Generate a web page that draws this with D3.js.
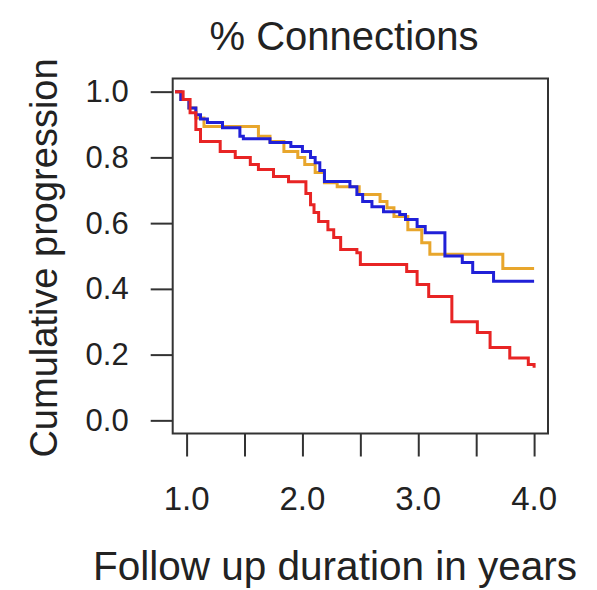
<!doctype html>
<html>
<head>
    <script src="https://d3js.org/d3.v7.min.js"></script>
    <style>
        body { margin: 0; background: #fff; }
        text { font-family: "Liberation Sans", Arial, Helvetica, sans-serif; fill: #222; }
    </style>
</head>
<body>
    <script>
        // step curves (time in years, cumulative value)
        var blueTime = [0.90, 0.95, 1.02, 1.08, 1.12, 1.18, 1.31, 1.46, 1.49, 1.72, 1.90, 2.00, 2.07, 2.11, 2.15, 2.19, 2.41, 2.47, 2.52, 2.60, 2.70, 2.84, 2.89, 2.99, 3.06, 3.23, 3.38, 3.47, 3.65, 4.00];
        var blueSurv = [1.00, 0.976, 0.95, 0.93, 0.917, 0.906, 0.89, 0.864, 0.857, 0.845, 0.833, 0.818, 0.80, 0.784, 0.76, 0.727, 0.711, 0.687, 0.666, 0.65, 0.635, 0.626, 0.611, 0.59, 0.571, 0.50, 0.48, 0.45, 0.423, 0.423];

        var orangeTime = [0.90, 0.95, 1.02, 1.08, 1.15, 1.62, 1.72, 1.84, 1.96, 2.02, 2.11, 2.19, 2.30, 2.49, 2.67, 2.73, 2.79, 2.91, 3.03, 3.10, 3.73, 4.00];
        var orangeSurv = [1.00, 0.976, 0.95, 0.92, 0.894, 0.864, 0.848, 0.818, 0.80, 0.778, 0.754, 0.723, 0.711, 0.687, 0.666, 0.647, 0.62, 0.58, 0.54, 0.505, 0.462, 0.462];

        var redTime = [0.90, 0.97, 1.03, 1.08, 1.12, 1.29, 1.42, 1.55, 1.62, 1.75, 1.88, 2.03, 2.07, 2.10, 2.14, 2.22, 2.27, 2.33, 2.47, 2.50, 2.90, 2.99, 3.09, 3.29, 3.51, 3.62, 3.79, 3.95, 4.00];
        var redSurv = [1.00, 0.976, 0.936, 0.885, 0.848, 0.818, 0.80, 0.778, 0.763, 0.742, 0.726, 0.69, 0.656, 0.632, 0.605, 0.58, 0.556, 0.52, 0.51, 0.474, 0.453, 0.413, 0.377, 0.30, 0.267, 0.222, 0.19, 0.17, 0.16];

        var xTicks = [1.0, 1.5, 2.0, 2.5, 3.0, 3.5, 4.0];
        var xLabels = [1.0, 2.0, 3.0, 4.0];
        var yTicks = [0.0, 0.2, 0.4, 0.6, 0.8, 1.0];

        var width = 597;
        var height = 590;
        // plot box (window.top is read-only, so no "top" here)
        var boxL = 172.7, boxR = 548, boxT = 78.5, boxB = 433.5;

        var x = d3.scaleLinear().domain([0.88, 4.12]).range([boxL, boxR]);
        var y = d3.scaleLinear().domain([-0.04, 1.04]).range([boxB, boxT]);

        var svg = d3.select("body").append("svg")
            .attr("width", width)
            .attr("height", height);

        // axes, R style: long ticks outside, labels set apart
        var yAxis = d3.axisLeft(y).tickValues(yTicks).tickSize(22).tickPadding(22)
            .tickFormat(d3.format(".1f"));
        var gy = svg.append("g").attr("transform", "translate(" + boxL + ",0)").call(yAxis);
        gy.select(".domain").remove();
        gy.selectAll("line").attr("stroke", "#333").attr("stroke-width", 2);
        gy.selectAll("text").attr("font-size", 31).attr("fill", "#222")
            .attr("font-family", "Liberation Sans, Arial, sans-serif");

        var xAxis = d3.axisBottom(x).tickValues(xTicks).tickSize(23).tickFormat("");
        var gx = svg.append("g").attr("transform", "translate(0," + boxB + ")").call(xAxis);
        gx.select(".domain").remove();
        gx.selectAll("line").attr("stroke", "#333").attr("stroke-width", 2);

        svg.selectAll(".xlab")
            .data(xLabels)
            .enter()
            .append("text")
            .attr("class", "xlab")
            .attr("x", function(d){ return x(d); })
            .attr("y", 510)
            .attr("text-anchor", "middle")
            .attr("font-size", 33)
            .text(d3.format(".1f"));

        // curves
        var line = d3.line()
            .x(function(d){ return x(d[0]); })
            .y(function(d){ return y(d[1]); })
            .curve(d3.curveStepAfter);

        var series = [
            { t: orangeTime, s: orangeSurv, color: "#e8a62c" },
            { t: blueTime, s: blueSurv, color: "#2020d8" },
            { t: redTime, s: redSurv, color: "#e82424" }
        ];

        svg.selectAll(".curve")
            .data(series)
            .enter()
            .append("path")
            .attr("class", "curve")
            .attr("fill", "none")
            .attr("stroke", function(d){ return d.color; })
            .attr("stroke-width", 3)
            .attr("d", function(d){
                return line(d.t.map(function(t, i){ return [t, d.s[i]]; }));
            });

        // box
        svg.append("rect")
            .attr("x", boxL)
            .attr("y", boxT)
            .attr("width", boxR - boxL)
            .attr("height", boxB - boxT)
            .attr("fill", "none")
            .attr("stroke", "#333")
            .attr("stroke-width", 2);

        // titles
        svg.append("text")
            .attr("x", 344)
            .attr("y", 50)
            .attr("text-anchor", "middle")
            .attr("font-size", 40)
            .text("% Connections");

        svg.append("text")
            .attr("x", 335)
            .attr("y", 580)
            .attr("text-anchor", "middle")
            .attr("font-size", 40.5)
            .text("Follow up duration in years");

        svg.append("text")
            .attr("transform", "translate(57,258) rotate(-90)")
            .attr("text-anchor", "middle")
            .attr("font-size", 38)
            .text("Cumulative progression");
    </script>
</body>
</html>
